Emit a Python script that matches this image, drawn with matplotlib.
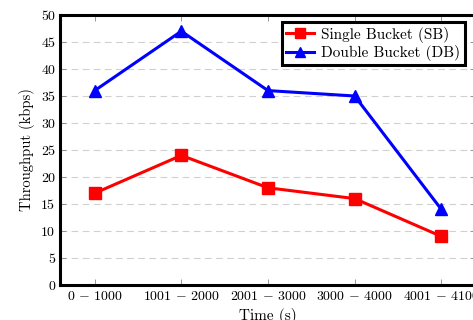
import matplotlib
matplotlib.use("Agg")
import matplotlib.pyplot as plt

categories = ["0 - 1000", "1001 - 2000", "2001 - 3000", "3000 - 4000", "4001 - 4100"]
single_bucket = [17, 24, 18, 16, 9]
double_bucket = [36, 47, 36, 35, 14]
y_ticks = list(range(0, 51, 5))

plt.rcParams["font.family"] = "serif"
plt.rcParams["font.serif"] = ["cmr10", "DejaVu Serif"]
plt.rcParams["mathtext.fontset"] = "cm"
plt.rcParams["axes.unicode_minus"] = False
plt.rcParams["axes.formatter.use_mathtext"] = True

fig = plt.figure(figsize=(4.73, 3.2), dpi=100)
ax = fig.add_axes([60 / 473, 35 / 320, 416 / 473, 270 / 320])

x = list(range(len(categories)))
ax.plot(x, single_bucket, color="red", lw=2.2, marker="s", ms=9,
        label="Single Bucket (SB)")
ax.plot(x, double_bucket, color="blue", lw=2.2, marker="^", ms=9,
        label="Double Bucket (DB)")

ax.set_xlim(-0.4, 4.4)
ax.set_ylim(0, 50)
ax.set_xticks(x)
ax.set_xticklabels(["$" + c.replace(" - ", r"\,-\,") + "$" for c in categories],
                   fontsize=10)
ax.set_yticks(y_ticks)
ax.set_yticklabels([str(v) for v in y_ticks], fontsize=10)
ax.tick_params(direction="in", top=True, right=True, length=4, width=0.6,
               color="#888888")
ax.yaxis.grid(True, ls=(0, (6, 4)), color="#d0d0d0", lw=0.8)
for s in ax.spines.values():
    s.set_linewidth(2.2)

ax.set_xlabel("Time (s)", fontsize=11, labelpad=4)
ax.set_ylabel("Throughput (kbps)", fontsize=10.5, labelpad=4)

leg = ax.legend(loc="upper right", bbox_to_anchor=(0.974, 0.974), fontsize=11,
                fancybox=False, framealpha=1, edgecolor="black",
                borderaxespad=0, handlelength=1.8, handletextpad=0.5,
                borderpad=0.3, labelspacing=0.15, markerscale=0.75)
leg.get_frame().set_linewidth(2.2)

fig.savefig("out.png", dpi=100)
